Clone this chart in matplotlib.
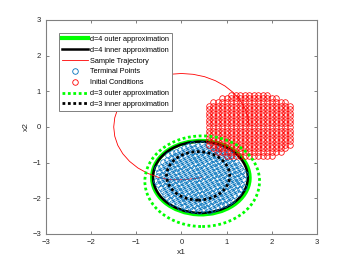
import numpy as np
import matplotlib
matplotlib.use('Agg')
import matplotlib.pyplot as plt
from matplotlib.patches import Ellipse
from matplotlib.lines import Line2D

plt.rcParams['font.family'] = ['Liberation Sans', 'DejaVu Sans']

# initial conditions: grid rows (y) and half width of each row around x = 1.5
init_center_x = 1.5
init_rows_y = [0.9, 0.8, 0.7, 0.6, 0.5, 0.4, 0.3, 0.2, 0.1,
               0.0, -0.1, -0.2, -0.3, -0.4, -0.5, -0.6, -0.7, -0.8]
init_row_halfwidth = [0.4, 0.6, 0.8, 0.9, 0.9, 0.9, 0.9, 0.9, 0.9,
                      0.9, 0.9, 0.9, 0.9, 0.9, 0.9, 0.8, 0.7, 0.5]
grid_step = 0.1

# terminal points: rotated grid filling the d=4 inner ellipse
term_center = (0.42, -1.42)
term_semi = (1.0, 0.95)
term_angle = 30.0

# sample trajectory
traj_x = [1.50, 1.477, 1.410, 1.299, 1.149, 0.964, 0.750, 0.513, 0.260, 0.0,
          -0.260, -0.513, -0.750, -0.964, -1.149, -1.299, -1.410, -1.477, -1.50,
          -1.477, -1.410, -1.299, -1.149, -0.964, -0.750, -0.513, -0.260,
          0.00, 0.20, 0.44]
traj_y = [0.05, 0.260, 0.513, 0.750, 0.964, 1.149, 1.299, 1.410, 1.477, 1.50,
          1.477, 1.410, 1.299, 1.149, 0.964, 0.750, 0.513, 0.260, 0.0,
          -0.260, -0.513, -0.750, -0.964, -1.149, -1.299, -1.410, -1.477,
          -1.48, -1.46, -1.42]

# approximations: center x, center y, width, height, angle
d4_outer = (0.43, -1.42, 2.16, 2.06, -3)
d4_inner = (0.42, -1.41, 2.10, 2.00, -3)
d3_outer = (0.46, -1.52, 2.54, 2.54, 0)
d3_inner = (0.37, -1.37, 1.40, 1.36, 0)

legend_labels = ['d=4 outer approximation', 'd=4 inner approximation',
                 'Sample Trajectory', 'Terminal Points', 'Initial Conditions',
                 'd=3 outer approximation', 'd=3 inner approximation']

init_x, init_y = [], []
for y, hw in zip(init_rows_y, init_row_halfwidth):
    for dx in np.arange(-hw, hw + 1e-9, grid_step):
        init_x.append(init_center_x + dx)
        init_y.append(y)

t = np.deg2rad(term_angle)
uu, vv = np.meshgrid(np.arange(-1.2, 1.21, grid_step), np.arange(-1.2, 1.21, grid_step))
px = term_center[0] + uu * np.cos(t) - vv * np.sin(t)
py = term_center[1] + uu * np.sin(t) + vv * np.cos(t)
inside = ((px - term_center[0]) / term_semi[0]) ** 2 + ((py - term_center[1]) / term_semi[1]) ** 2 <= 1
term_x, term_y = px[inside], py[inside]

green = (0, 1, 0)
red = (1, 0, 0)
blue = (0, 0.447, 0.741)
dots = (0, (1, 0.95))
grey = (0.15, 0.15, 0.15)
axis_grey = (0.5, 0.5, 0.5)

fig = plt.figure(figsize=(3.5, 2.63), dpi=100)
ax = fig.add_axes([0.1314, 0.1103, 0.774, 0.8137])

styles = [
    dict(color=green, lw=3.0),
    dict(color='k', lw=1.8),
]
for (cx, cy, w, h, a), st in zip([d4_outer, d4_inner], styles):
    ax.add_patch(Ellipse((cx, cy), w, h, angle=a, fill=False, edgecolor=st['color'],
                         linewidth=st['lw'], zorder=2))

ax.plot(traj_x, traj_y, color=red, lw=0.6, zorder=3)
ax.plot(term_x, term_y, 'o', mfc='none', mec=blue, mew=0.5, ms=4.0, zorder=3)
ax.plot(init_x, init_y, 'o', mfc='none', mec=red, mew=0.55, ms=4.0, zorder=3)

for (cx, cy, w, h, a), col in zip([d3_outer, d3_inner], [green, 'k']):
    ax.add_patch(Ellipse((cx, cy), w, h, angle=a, fill=False, edgecolor=col,
                         linewidth=2.0, linestyle=dots, capstyle='butt', zorder=4))

handles = [
    Line2D([], [], color=green, lw=3.0),
    Line2D([], [], color='k', lw=1.8),
    Line2D([], [], color=red, lw=0.6),
    Line2D([], [], ls='none', marker='o', mfc='none', mec=blue, mew=0.6, ms=4),
    Line2D([], [], ls='none', marker='o', mfc='none', mec=red, mew=0.6, ms=4),
    Line2D([], [], color=green, lw=2.0, ls=dots, dash_capstyle='butt'),
    Line2D([], [], color='k', lw=2.0, ls=dots, dash_capstyle='butt'),
]
leg = ax.legend(handles, legend_labels, loc='upper left', bbox_to_anchor=(0.049, 0.938),
                borderaxespad=0, fontsize=5.3, handlelength=3.5, handletextpad=0.35,
                labelspacing=0.5, borderpad=0.35, numpoints=1, fancybox=False,
                framealpha=1)
leg.get_frame().set_edgecolor(axis_grey)
leg.get_frame().set_linewidth(0.7)

ax.set_xlim(-3, 3)
ax.set_ylim(-3, 3)
ax.set_xticks(range(-3, 4))
ax.set_yticks(range(-3, 4))
ax.tick_params(direction='in', length=2.5, width=0.7, labelsize=5.5, top=True, right=True,
               color=axis_grey, labelcolor=grey, pad=3.5)
for s in ax.spines.values():
    s.set_linewidth(0.8)
    s.set_color(axis_grey)
ax.set_xlabel('x1', fontsize=6, color=grey, labelpad=2.5)
ax.set_ylabel('x2', fontsize=6, color=grey, labelpad=2)

fig.savefig('out.png', dpi=100)
